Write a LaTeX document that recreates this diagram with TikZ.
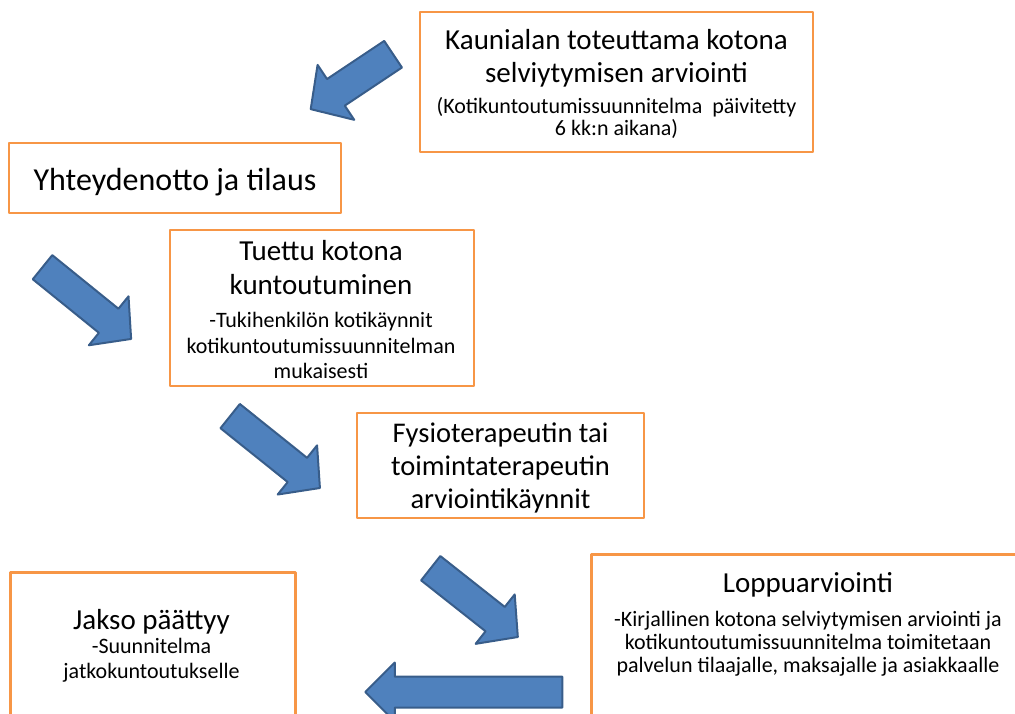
\documentclass[tikz,border=0pt]{standalone}
\usepackage{fontspec}
\setmainfont{Carlito}
\usetikzlibrary{shapes.arrows,positioning}

\definecolor{boxorange}{HTML}{F79646}
\definecolor{arrowblue}{HTML}{4F81BD}
\definecolor{arrowedge}{HTML}{385D8A}

\newcommand{\titlesize}{\fontsize{29}{33}\selectfont}
\newcommand{\notesize}{\fontsize{22}{23}\selectfont}

\tikzset{
  stepbox/.style={draw=boxorange, line width=2.8pt, fill=white, inner sep=0pt},
  steptext/.style={align=center, inner sep=0pt, anchor=base, font=\titlesize},
  flowarrow/.style={single arrow, draw=arrowedge, fill=arrowblue, line width=2pt,
    inner sep=14.5pt, minimum width=0pt, single arrow head extend=16pt,
    single arrow tip angle=95}
}

\begin{document}
\begin{tikzpicture}[x=1pt, y=-1pt, line join=round]
  \useasboundingbox (0,0) rectangle (1015,713);
  \clip (0,0) rectangle (1015,713);

  % boxes
  \node[stepbox, minimum width=393pt, minimum height=140pt] (assess) at (616.5,82) {};
  \node[steptext] (assesstext) at (616.5,135)
    {Kaunialan toteuttama kotona\\selviytymisen arviointi\\[-2pt]
     \notesize (Kotikuntoutumissuunnitelma\ \ päivitetty\\[-11pt] \notesize 6 kk:n\ aikana)};
  \node[stepbox, minimum width=332pt, minimum height=70pt] (intake) at (175,178) {};
  \node[steptext, font=\fontsize{32}{36}\selectfont] (intaketext) at (175,190) {Yhteydenotto ja tilaus};
  \node[stepbox, minimum width=304pt, minimum height=156pt] (support) at (322,308) {};
  \node[steptext] (supporttext) at (321,378)
    {Tuettu kotona\\[1pt]kuntoutuminen\\
     \notesize -Tukihenkilön kotikäynnit\\[-7pt] \notesize kotikuntoutumissuunnitelman\\[-8pt] \notesize mukaisesti};
  \node[stepbox, minimum width=287pt, minimum height=105pt] (therapy) at (500.5,465.5) {};
  \node[steptext, font=\fontsize{28.5}{33}\selectfont] (therapytext) at (500.5,508)
    {Fysioterapeutin tai\\toimintaterapeutin\\arviointikäynnit};
  \node[stepbox, minimum width=436pt, minimum height=200pt, anchor=north west] (final) at (590,553) {};
  \node[steptext] (finaltext) at (808,672)
    {Loppuarviointi\\[1pt]
     \notesize -Kirjallinen kotona selviytymisen arviointi ja\\[-10pt] \notesize kotikuntoutumissuunnitelma toimitetaan\\[-10pt] \notesize palvelun tilaajalle, maksajalle ja asiakkaalle};
  \node[stepbox, minimum width=285pt, minimum height=180pt, anchor=north west] (closing) at (9,571) {};
  \node[steptext] (closingtext) at (151.5,678)
    {Jakso päättyy\\[-9pt]
     \notesize -Suunnitelma\\[-8pt] \notesize jatkokuntoutukselle};

  % arrows
  \node[flowarrow, minimum height=99pt, inner sep=15pt, single arrow head extend=17pt, rotate=213.7] (arrowA) at (358,77.6) {};
  \node[flowarrow, minimum height=114pt, rotate=-39] (arrowB) at (81.3,298.6) {};
  \node[flowarrow, minimum height=115pt, rotate=-38.7] (arrowC) at (269.5,447.6) {};
  \node[flowarrow, minimum height=111pt, rotate=-38.3] (arrowD) at (468.7,598.2) {};
  \node[flowarrow, minimum height=197pt, single arrow head extend=14pt, single arrow tip angle=90, rotate=180] (arrowE) at (471.5,692) {};
\end{tikzpicture}
\end{document}
